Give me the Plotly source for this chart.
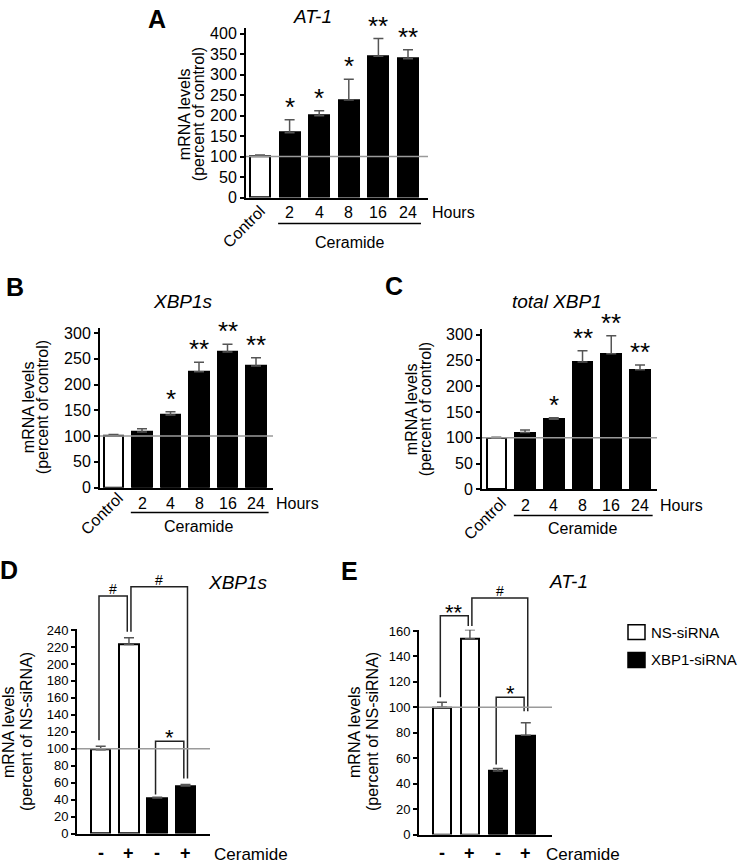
import plotly.graph_objects as go

W, H = 745, 868
FONT = "Liberation Sans, Arial, Helvetica, sans-serif"

# ---------------- data ----------------
time_labels = ["Control", "2", "4", "8", "16", "24"]

at1_time_mean = [101, 158, 200, 238, 345, 339]
at1_time_err = [3, 32, 12, 51, 43, 22]
at1_time_sig = ["", "*", "*", "*", "**", "**"]

xbp1s_time_mean = [101, 108, 141, 225, 263, 236]
xbp1s_time_err = [2, 6, 6, 18, 15, 16]
xbp1s_time_sig = ["", "", "*", "**", "**", "**"]

totxbp1_time_mean = [99, 110, 136, 247, 263, 232]
totxbp1_time_err = [2, 5, 3, 22, 35, 9]
totxbp1_time_sig = ["", "", "*", "**", "**", "**"]

sirna_groups = ["NS-siRNA", "NS-siRNA", "XBP1-siRNA", "XBP1-siRNA"]
ceramide_labels = ["-", "+", "-", "+"]

xbp1s_sirna_mean = [99, 223, 42, 56]
xbp1s_sirna_err = [4, 8, 1, 2]
# (bar i, bar j, bracket top, left leg end, right leg end, label)
xbp1s_sirna_brackets = [(0, 1, 280, 110, 238, "#"),
                        (1, 3, 291, 238, 65, "#"),
                        (2, 3, 109, 46, 65, "*")]

at1_sirna_mean = [100, 154, 50, 78]
at1_sirna_err = [4, 7, 2, 10]
at1_sirna_brackets = [(0, 1, 172, 108, 164, "**"),
                      (1, 3, 186, 164, 97, "#"),
                      (2, 3, 108, 55, 97, "*")]

REFERENCE_LEVEL = 100

# ---------------- helpers ----------------
VS = 1.012   # slight vertical spread of the layout grid
VC = 434.0

def fx(p):
    return p / W

def fy(p):
    return 1 - (VC + VS * (p - VC)) / H

fig = go.Figure()
annotations = []
shapes = []

group_color = {"NS-siRNA": "white", "XBP1-siRNA": "black"}
time_colors = ["white"] + ["black"] * 5
sirna_colors = [group_color[g] for g in sirna_groups]

panels = [
    dict(letter="A", title="AT-1", mean=at1_time_mean, err=at1_time_err, sig=at1_time_sig,
         colors=time_colors, xpx=(246, 428), c0=260, sp=29.6, ybase=197, upp=0.4125,
         ytop=413, dtick=50, tmax=400, bw=0.676, tfs=16,
         letter_xy=(157, 17), title_xy=(312, 15),
         ytitle=("mRNA levels", "(percent of control)"), ytx=(184, 198), yty=113),
    dict(letter="B", title="XBP1s", mean=xbp1s_time_mean, err=xbp1s_time_err, sig=xbp1s_time_sig,
         colors=time_colors, xpx=(100, 273), c0=113.5, sp=28.5, ybase=489, upp=0.519,
         ytop=310, dtick=50, tmax=300, bw=0.684, tfs=16,
         letter_xy=(15, 287), title_xy=(183, 302),
         ytitle=("mRNA levels", "(percent of control)"), ytx=(28, 42), yty=408),
    dict(letter="C", title="total XBP1", mean=totxbp1_time_mean, err=totxbp1_time_err, sig=totxbp1_time_sig,
         colors=time_colors, xpx=(482, 657), c0=496.3, sp=28.74, ybase=490.7, upp=0.519,
         ytop=311, dtick=50, tmax=300, bw=0.68, tfs=16,
         letter_xy=(394, 286), title_xy=(557, 302),
         ytitle=("mRNA levels", "(percent of control)"), ytx=(411, 425), yty=410),
    dict(letter="D", title="XBP1s", mean=xbp1s_sirna_mean, err=xbp1s_sirna_err, sig=None,
         colors=sirna_colors, xpx=(77, 210), c0=100.7, sp=28.27, ybase=837.3, upp=0.854,
         ytop=241, ovtop=300, dtick=20, tmax=240, bw=0.69, tfs=13,
         letter_xy=(9, 572), title_xy=(238, 585), brackets=xbp1s_sirna_brackets,
         ytitle=("mRNA levels", "(percent of NS-siRNA)"), ytx=(9, 27), yty=735),
    dict(letter="E", title="AT-1", mean=at1_sirna_mean, err=at1_sirna_err, sig=None,
         colors=sirna_colors, xpx=(419, 552), c0=442, sp=27.93, ybase=838.3, upp=1.281,
         ytop=161, ovtop=192, dtick=20, tmax=160, bw=0.67, tfs=13,
         letter_xy=(349, 573), title_xy=(568, 583), brackets=at1_sirna_brackets,
         ytitle=("mRNA levels", "(percent of NS-siRNA)"), ytx=(355, 373), yty=735),
]

layout_axes = {}
n_panels = len(panels)
overlay_idx = n_panels + 1
for k, p in enumerate(panels, start=1):
    sfx = "" if k == 1 else str(k)
    xref, yref = "x" + sfx, "y" + sfx
    n = len(p["mean"])
    xr = [(p["xpx"][0] - p["c0"]) / p["sp"], (p["xpx"][1] - p["c0"]) / p["sp"]]
    ydom = [fy(p["ybase"]), fy(p["ybase"] - p["ytop"] * p["upp"])]
    xdom = [fx(p["xpx"][0]), fx(p["xpx"][1])]

    fig.add_trace(go.Bar(
        x=list(range(n)), y=p["mean"], width=p["bw"],
        marker=dict(color=p["colors"], line=dict(color="black", width=2)),
        error_y=dict(type="data", symmetric=False, array=p["err"], arrayminus=[0] * n,
                     color="#555555", thickness=1.5, width=5),
        xaxis=xref, yaxis=yref, showlegend=False, hoverinfo="skip",
    ))

    layout_axes["xaxis" + sfx] = dict(
        domain=xdom, range=xr, anchor=yref, showline=True, linecolor="black", linewidth=2,
        showticklabels=False, ticks="", showgrid=False, zeroline=False, fixedrange=True)
    layout_axes["yaxis" + sfx] = dict(
        domain=ydom, range=[0, p["ytop"]], anchor=xref, showline=True, linecolor="black",
        linewidth=2, ticks="outside", ticklen=4, tickwidth=1.5, tickcolor="black",
        tickvals=list(range(0, p["tmax"] + 1, p["dtick"])),
        tickfont=dict(family=FONT, size=p["tfs"], color="black"),
        showgrid=False, zeroline=False, fixedrange=True)

    # reference line at 100 %
    shapes.append(dict(type="line", xref=xref, yref=yref, x0=xr[0], x1=xr[1],
                       y0=REFERENCE_LEVEL, y1=REFERENCE_LEVEL,
                       line=dict(color="#9a9a9a", width=1.5), layer="above"))

    # panel letter & title
    annotations.append(dict(text="<b>%s</b>" % p["letter"], x=fx(p["letter_xy"][0]),
                            y=fy(p["letter_xy"][1]), xref="paper", yref="paper",
                            showarrow=False, xanchor="center", yanchor="middle",
                            font=dict(family=FONT, size=25, color="black")))
    annotations.append(dict(text="<i>%s</i>" % p["title"], x=fx(p["title_xy"][0]),
                            y=fy(p["title_xy"][1]), xref="paper", yref="paper",
                            showarrow=False, xanchor="center", yanchor="middle",
                            font=dict(family=FONT, size=19, color="black")))
    # y title (two lines)
    for line, xp in zip(p["ytitle"], p["ytx"]):
        annotations.append(dict(text=line, x=fx(xp), y=fy(p["yty"]), xref="paper", yref="paper",
                                showarrow=False, textangle=-90, xanchor="center",
                                yanchor="middle", font=dict(family=FONT, size=16, color="black")))

    # significance above bars
    if p["sig"]:
        for i, s in enumerate(p["sig"]):
            if s:
                annotations.append(dict(text=s, x=i, y=p["mean"][i] + p["err"][i],
                                        xref=xref, yref=yref, showarrow=False,
                                        xanchor="center", yanchor="bottom", yshift=-4,
                                        font=dict(family=FONT, size=26, color="black")))

    if k <= 3:
        lab_y = {1: 212, 2: 505, 3: 507}[k]
        ctrl_xy = {1: (244, 226), 2: (102, 515), 3: (485, 520)}[k]
        hours_xy = {1: (453, 212), 2: (297, 505), 3: (681, 507)}[k]
        line_y = {1: 223, 2: 514, 3: 517}[k]
        cer_xy = {1: (349, 242), 2: (198, 528), 3: (582, 530)}[k]
        for i, lab in enumerate(time_labels):
            if i == 0:
                annotations.append(dict(text=lab, x=fx(ctrl_xy[0]), y=fy(ctrl_xy[1]),
                                        xref="paper", yref="paper", showarrow=False,
                                        textangle=-45, xanchor="center", yanchor="middle",
                                        font=dict(family=FONT, size=16, color="black")))
            else:
                annotations.append(dict(text=lab, x=i, y=fy(lab_y), xref=xref, yref="paper",
                                        showarrow=False, xanchor="center", yanchor="middle",
                                        font=dict(family=FONT, size=16, color="black")))
        annotations.append(dict(text="Hours", x=fx(hours_xy[0]), y=fy(hours_xy[1]),
                                xref="paper", yref="paper", showarrow=False,
                                xanchor="center", yanchor="middle",
                                font=dict(family=FONT, size=16, color="black")))
        shapes.append(dict(type="line", xref=xref, yref="paper",
                           x0=1 - p["bw"] / 2 - 0.05, x1=5 + p["bw"] / 2 + 0.1,
                           y0=fy(line_y), y1=fy(line_y), line=dict(color="black", width=1.5)))
        annotations.append(dict(text="Ceramide", x=fx(cer_xy[0]), y=fy(cer_xy[1]),
                                xref="paper", yref="paper", showarrow=False,
                                xanchor="center", yanchor="middle",
                                font=dict(family=FONT, size=16, color="black")))
    else:
        for i, lab in enumerate(ceramide_labels):
            annotations.append(dict(text="<b>%s</b>" % lab, x=i, y=fy(857), xref=xref, yref="paper",
                                    showarrow=False, xanchor="center", yanchor="middle",
                                    font=dict(family=FONT, size=18, color="black")))
        cer_x = {4: 251, 5: 583}[k]
        annotations.append(dict(text="Ceramide", x=fx(cer_x), y=fy(858), xref="paper", yref="paper",
                                showarrow=False, xanchor="center", yanchor="middle",
                                font=dict(family=FONT, size=17, color="black")))

        # invisible overlay axes with the same scale, taller, so brackets are not clipped
        osfx = str(overlay_idx)
        overlay_idx += 1
        oxref, oyref = "x" + osfx, "y" + osfx
        layout_axes["xaxis" + osfx] = dict(domain=xdom, range=xr, anchor=oyref, visible=False,
                                           fixedrange=True)
        layout_axes["yaxis" + osfx] = dict(
            domain=[ydom[0], fy(p["ybase"] - p["ovtop"] * p["upp"])],
            range=[0, p["ovtop"]], anchor=oxref, visible=False, fixedrange=True)
        for (i, j, top, lb, rb, lab) in p["brackets"]:
            off = 0.07 if (j - i) > 1 else -0.06
            xl, xrr = i + off, j + off
            fig.add_trace(go.Scatter(x=[xl, xl, xrr, xrr], y=[lb, top, top, rb], mode="lines",
                                     line=dict(color="#222222", width=1.5), xaxis=oxref, yaxis=oyref,
                                     showlegend=False, hoverinfo="skip"))
            fs = 14 if lab == "#" else 22
            ys = -3 if lab == "#" else -11
            annotations.append(dict(text=lab, x=(xl + xrr) / 2, y=top, xref=oxref, yref=oyref,
                                    showarrow=False, xanchor="center", yanchor="bottom", yshift=ys,
                                    font=dict(family=FONT, size=fs, color="black")))

# legend (panel E)
legend_items = [("NS-siRNA", 627), ("XBP1-siRNA", 655)]
for name, ytop in legend_items:
    shapes.append(dict(type="rect", xref="paper", yref="paper", x0=fx(628), x1=fx(645),
                       y0=fy(ytop + 15), y1=fy(ytop), fillcolor=group_color[name],
                       line=dict(color="black", width=1.5)))
    annotations.append(dict(text=name, x=fx(649), y=fy(ytop + 7.5), xref="paper", yref="paper",
                            showarrow=False, xanchor="left", yanchor="middle",
                            font=dict(family=FONT, size=15, color="black")))

fig.update_layout(
    width=W, height=H, margin=dict(l=0, r=0, t=0, b=0),
    paper_bgcolor="white", plot_bgcolor="rgba(0,0,0,0)", showlegend=False,
    annotations=annotations, shapes=shapes, bargap=0,
    font=dict(family=FONT, color="black"),
    **layout_axes,
)

fig.write_html("out.html", config={"displayModeBar": False},
               post_script="document.body.style.margin='0px';")
